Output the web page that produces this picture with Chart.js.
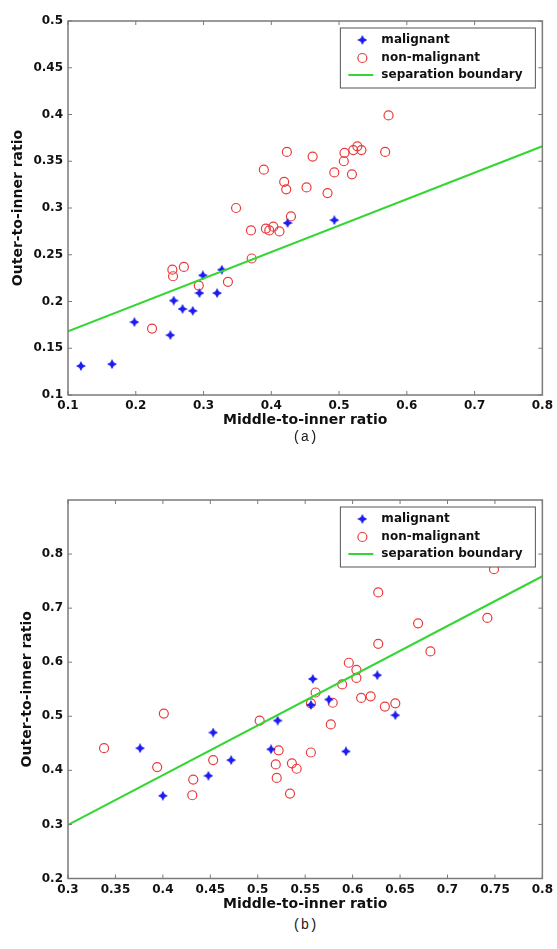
<!DOCTYPE html>
<html>
<head>
<meta charset="utf-8">
<script src="https://cdn.jsdelivr.net/npm/chart.js@4.4.1/dist/chart.umd.min.js"></script>
<style>
  body { margin: 0; background: #fff; }
  #wrap { position: relative; width: 557px; height: 949px; }
  .panel { position: absolute; left: 0; width: 557px; }
  .panel canvas { display: block; }
  .cap { position: absolute; left: 275px; width: 60px; text-align: center;
         font: 14px "Liberation Mono", "DejaVu Sans Mono", monospace; color: #222; line-height: 16px; }
</style>
</head>
<body>
<div id="wrap">
  <div class="panel" style="top:0;height:440px"><canvas id="chartA"></canvas></div>
  <div class="cap" style="top:429px">(a)</div>
  <div class="panel" style="top:470px;height:445px"><canvas id="chartB"></canvas></div>
  <div class="cap" style="top:917px">(b)</div>
</div>
<script>
// ---- panel (a) ----
const malignantA = [
  [0.119, 0.131], [0.165, 0.133], [0.198, 0.178], [0.251, 0.164], [0.256, 0.201],
  [0.269, 0.192], [0.284, 0.190], [0.294, 0.209], [0.299, 0.228], [0.320, 0.209],
  [0.327, 0.234], [0.424, 0.284], [0.493, 0.287]
];
const nonMalignantA = [
  [0.224, 0.171], [0.254, 0.234], [0.255, 0.227], [0.271, 0.237], [0.293, 0.217],
  [0.336, 0.221], [0.348, 0.300], [0.370, 0.276], [0.371, 0.246], [0.389, 0.341],
  [0.392, 0.278], [0.397, 0.276], [0.403, 0.280], [0.412, 0.275], [0.419, 0.328],
  [0.422, 0.320], [0.423, 0.360], [0.429, 0.291], [0.452, 0.322], [0.461, 0.355],
  [0.483, 0.316], [0.493, 0.338], [0.507, 0.350], [0.508, 0.359], [0.519, 0.336],
  [0.521, 0.362], [0.527, 0.366], [0.533, 0.362], [0.568, 0.360], [0.573, 0.399]
];
const boundaryA = [[0.1, 0.168], [0.8, 0.366]];
const xTicksA = [0.1, 0.2, 0.3, 0.4, 0.5, 0.6, 0.7, 0.8];
const yTicksA = [0.1, 0.15, 0.2, 0.25, 0.3, 0.35, 0.4, 0.45, 0.5];

// ---- panel (b) ----
const malignantB = [
  [0.376, 0.441], [0.400, 0.353], [0.448, 0.390], [0.453, 0.470], [0.472, 0.419],
  [0.514, 0.439], [0.521, 0.492], [0.556, 0.521], [0.558, 0.569], [0.575, 0.531],
  [0.593, 0.435], [0.626, 0.576], [0.645, 0.502]
];
const nonMalignantB = [
  [0.338, 0.441], [0.394, 0.406], [0.401, 0.505], [0.431, 0.354], [0.432, 0.383],
  [0.453, 0.419], [0.502, 0.492], [0.519, 0.411], [0.520, 0.386], [0.522, 0.437],
  [0.534, 0.357], [0.536, 0.413], [0.541, 0.403], [0.556, 0.433], [0.556, 0.524],
  [0.561, 0.544], [0.577, 0.485], [0.579, 0.525], [0.589, 0.559], [0.596, 0.599],
  [0.604, 0.586], [0.604, 0.571], [0.609, 0.534], [0.619, 0.537], [0.627, 0.634],
  [0.627, 0.729], [0.634, 0.518], [0.645, 0.524], [0.669, 0.672], [0.682, 0.620],
  [0.742, 0.682], [0.749, 0.772]
];
const boundaryB = [[0.3, 0.299], [0.8, 0.759]];
const xTicksB = [0.3, 0.35, 0.4, 0.45, 0.5, 0.55, 0.6, 0.65, 0.7, 0.75, 0.8];
const yTicksB = [0.2, 0.3, 0.4, 0.5, 0.6, 0.7, 0.8];

const legendLabels = ["malignant", "non-malignant", "separation boundary"];
const BLUE = "#1c1cf0", RED = "#ea3b3b", GREEN = "#33d633";

Chart.defaults.font.family = '"DejaVu Sans", sans-serif';
Chart.defaults.font.weight = "bold";
Chart.defaults.font.size = 12;
Chart.defaults.color = "#111";

// blue four-point star marker
function makeStar(color, size) {
  const c = document.createElement("canvas");
  c.width = size; c.height = size;
  const g = c.getContext("2d");
  const m = size / 2, k = size * 0.17;
  g.fillStyle = color;
  g.beginPath();
  g.moveTo(m, 0); g.lineTo(m + k, m - k); g.lineTo(size, m); g.lineTo(m + k, m + k);
  g.lineTo(m, size); g.lineTo(m - k, m + k); g.lineTo(0, m); g.lineTo(m - k, m - k);
  g.closePath(); g.fill();
  return c;
}
const star = makeStar(BLUE, 10);

// box round the plot, inward ticks, and the legend inside
const framePlugin = {
  id: "frame",
  afterDatasetsDraw(chart) {
    const { ctx, chartArea: a, scales: { x, y } } = chart;
    ctx.save();
    ctx.strokeStyle = "#7a7a7a";
    ctx.lineWidth = 1.5;
    ctx.strokeRect(a.left, a.top, a.right - a.left, a.bottom - a.top);
    ctx.lineWidth = 1;
    ctx.beginPath();
    x.ticks.forEach((t) => {
      const p = x.getPixelForValue(t.value);
      ctx.moveTo(p, a.bottom); ctx.lineTo(p, a.bottom - 4);
      ctx.moveTo(p, a.top); ctx.lineTo(p, a.top + 4);
    });
    y.ticks.forEach((t) => {
      const p = y.getPixelForValue(t.value);
      ctx.moveTo(a.left, p); ctx.lineTo(a.left + 4, p);
      ctx.moveTo(a.right, p); ctx.lineTo(a.right - 4, p);
    });
    ctx.stroke();

    // legend
    const w = 195, h = 60;
    const lx = a.right - 7 - w, ly = a.top + 7;
    ctx.fillStyle = "#fff";
    ctx.fillRect(lx, ly, w, h);
    ctx.strokeStyle = "#555";
    ctx.lineWidth = 1;
    ctx.strokeRect(lx, ly, w, h);
    const rows = [12, 30, 47];
    ctx.font = 'bold 12px "DejaVu Sans", sans-serif';
    ctx.textBaseline = "middle";
    ctx.fillStyle = "#111";
    legendLabels.forEach((lab, i) => {
      const ry = ly + rows[i];
      if (i === 0) ctx.drawImage(star, lx + 22 - 5, ry - 5);
      if (i === 1) {
        ctx.beginPath(); ctx.strokeStyle = RED; ctx.lineWidth = 1.2;
        ctx.arc(lx + 22, ry, 4.5, 0, Math.PI * 2); ctx.stroke();
      }
      if (i === 2) {
        ctx.beginPath(); ctx.strokeStyle = GREEN; ctx.lineWidth = 2;
        ctx.moveTo(lx + 8, ry); ctx.lineTo(lx + 33, ry); ctx.stroke();
      }
      ctx.fillStyle = "#111";
      ctx.fillText(lab, lx + 41, ry);
    });
    ctx.restore();
  }
};

const fmt = (v) => String(Math.round(v * 100) / 100);
const toPts = (arr) => arr.map(([x, y]) => ({ x, y }));

function drawPanel(canvasId, mal, nonMal, boundary, xTicks, yTicks, yMax, pad, yTitlePad) {
  const ctx = document.getElementById(canvasId).getContext("2d");
  new Chart(ctx, {
    type: "scatter",
    data: {
      datasets: [
        {
          label: legendLabels[2], data: toPts(boundary), showLine: true,
          borderColor: GREEN, borderWidth: 2, pointRadius: 0, order: 0
        },
        {
          label: legendLabels[0], data: toPts(mal), pointStyle: star,
          pointRadius: 5, order: 1
        },
        {
          label: legendLabels[1], data: toPts(nonMal), pointStyle: "circle",
          pointRadius: 4.5, borderWidth: 1.2, borderColor: RED,
          backgroundColor: "rgba(0,0,0,0)", order: 2
        }
      ]
    },
    options: {
      responsive: true,
      maintainAspectRatio: false,
      animation: false,
      events: [],
      layout: { padding: pad },
      plugins: { legend: { display: false }, tooltip: { enabled: false } },
      scales: {
        x: {
          type: "linear", min: xTicks[0], max: xTicks[xTicks.length - 1],
          grid: { display: false, drawTicks: false },
          border: { display: false },
          afterBuildTicks: (s) => { s.ticks = xTicks.map((v) => ({ value: v })); },
          afterFit: (s) => { s.height = 34; },
          ticks: { padding: 4, maxRotation: 0, autoSkip: false, callback: fmt },
          title: { display: true, text: "Middle-to-inner ratio",
                   font: { size: 14, weight: "bold" }, padding: { top: 0, bottom: 0 } }
        },
        y: {
          type: "linear", min: yTicks[0], max: yMax,
          grid: { display: false, drawTicks: false },
          border: { display: false },
          afterBuildTicks: (s) => { s.ticks = yTicks.map((v) => ({ value: v })); },
          afterFit: (s) => { s.width = 68; },
          ticks: { padding: 5, autoSkip: false, callback: fmt },
          title: { display: true, text: "Outer-to-inner ratio",
                   font: { size: 14, weight: "bold" }, padding: { top: yTitlePad, bottom: 0 } }
        }
      }
    },
    plugins: [framePlugin]
  });
}

drawPanel("chartA", malignantA, nonMalignantA, boundaryA, xTicksA, yTicksA, 0.5,
  { top: 21, right: 12, bottom: 11, left: 0 }, 10);
drawPanel("chartB", malignantB, nonMalignantB, boundaryB, xTicksB, yTicksB, 0.9,
  { top: 30, right: 12, bottom: 2.5, left: 0 }, 19);
</script>
</body>
</html>
